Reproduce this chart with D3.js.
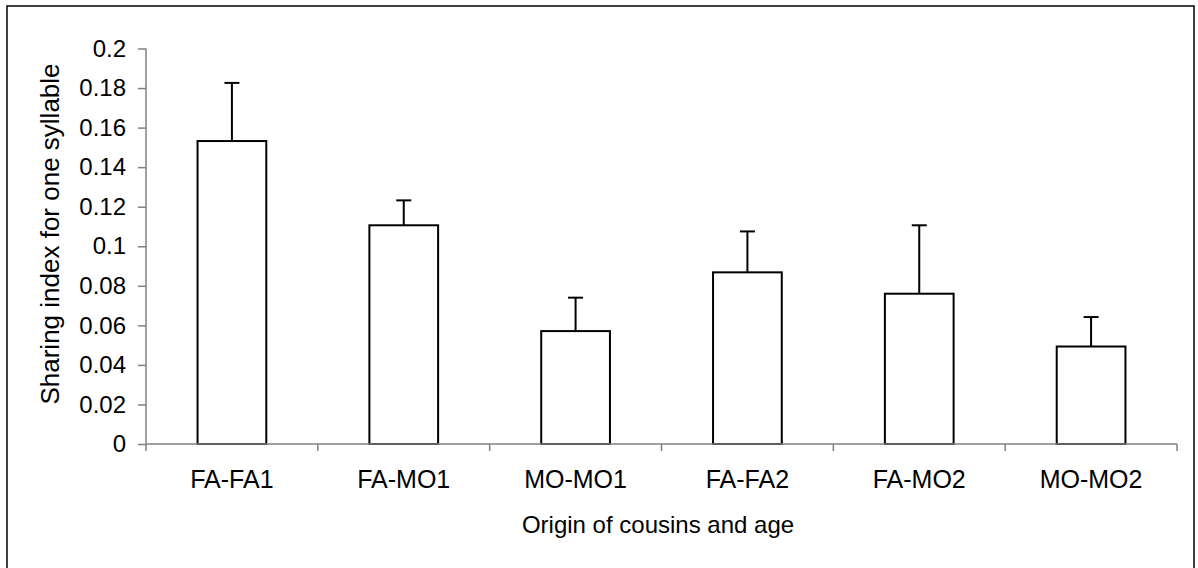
<!DOCTYPE html>
<html>
<head>
<meta charset="utf-8">
<script src="https://cdn.jsdelivr.net/npm/d3@7"></script>
<style>
  html, body { margin: 0; padding: 0; background: #fff; }
  svg { display: block; font-family: "Liberation Sans", Arial, sans-serif; }
</style>
</head>
<body>
<svg id="chart" width="1198" height="568"></svg>
<script>
const categories = ["FA-FA1", "FA-MO1", "MO-MO1", "FA-FA2", "FA-MO2", "MO-MO2"];
const means      = [0.1532, 0.1106, 0.0571, 0.0868, 0.0760, 0.0493];
const upperError = [0.1826, 0.1232, 0.0740, 0.1075, 0.1106, 0.0642];
const yTicks     = [0, 0.02, 0.04, 0.06, 0.08, 0.1, 0.12, 0.14, 0.16, 0.18, 0.2];
const xTitle = "Origin of cousins and age";
const yTitle = "Sharing index for one syllable";

const svg = d3.select("#chart");
const fontSize = 24;

// outer frame
svg.append("rect")
  .attr("x", 7).attr("y", 6).attr("width", 1187).attr("height", 580)
  .attr("fill", "none").attr("stroke", "#000").attr("stroke-width", 1.5);

const x = d3.scaleBand().domain(categories).range([146, 1177]).padding(0);
const y = d3.scaleLinear().domain([0, 0.2]).range([444, 48.5]);

const barW = x.bandwidth() * 0.4;
const capHalf = 7.5;

// bars
svg.append("g").selectAll("rect").data(categories).join("rect")
  .attr("x", (d) => x(d) + x.bandwidth() / 2 - barW / 2)
  .attr("y", (d, i) => y(means[i]))
  .attr("width", barW)
  .attr("height", (d, i) => y(0) - y(means[i]))
  .attr("fill", "#fff").attr("stroke", "#000").attr("stroke-width", 2);

// error bars
const eg = svg.append("g").attr("stroke", "#000").attr("stroke-width", 2);
categories.forEach((c, i) => {
  const cx = x(c) + x.bandwidth() / 2;
  eg.append("line").attr("x1", cx).attr("x2", cx)
    .attr("y1", y(means[i])).attr("y2", y(upperError[i]));
  eg.append("line").attr("x1", cx - capHalf).attr("x2", cx + capHalf)
    .attr("y1", y(upperError[i])).attr("y2", y(upperError[i]));
});

// y axis
const yAxis = d3.axisLeft(y).tickValues(yTicks).tickSize(8).tickPadding(12)
  .tickFormat((d) => String(+d.toFixed(2)));
const gy = svg.append("g").attr("transform", "translate(146,0)").call(yAxis);
gy.select(".domain").attr("stroke", "#808080").attr("stroke-width", 1.5)
  .attr("d", `M0,${y(0.2)}V${y(0)}`);
gy.selectAll(".tick line").attr("stroke", "#808080").attr("stroke-width", 1.5);
gy.selectAll(".tick text").attr("fill", "#000").attr("font-size", fontSize)
  .attr("font-family", "Liberation Sans, Arial, sans-serif");

// x axis: ticks at band boundaries
const gx = svg.append("g").attr("transform", "translate(0,444)");
gx.append("line").attr("x1", 146).attr("x2", 1177).attr("y1", 0).attr("y2", 0)
  .attr("stroke", "#808080").attr("stroke-width", 1.5);
const bounds = categories.map((c) => x(c)).concat([x(categories[categories.length - 1]) + x.bandwidth()]);
gx.selectAll("line.tk").data(bounds).join("line").attr("class", "tk")
  .attr("x1", (d) => d).attr("x2", (d) => d).attr("y1", 0).attr("y2", 7)
  .attr("stroke", "#808080").attr("stroke-width", 1.5);
gx.selectAll("text").data(categories).join("text")
  .attr("x", (d) => x(d) + x.bandwidth() / 2)
  .attr("y", 44)
  .attr("text-anchor", "middle")
  .attr("font-size", 25).attr("fill", "#000")
  .text((d) => d);

// axis titles
svg.append("text")
  .attr("x", 658).attr("y", 533)
  .attr("text-anchor", "middle").attr("font-size", fontSize).attr("fill", "#000")
  .text(xTitle);

svg.append("text")
  .attr("transform", "translate(59,234) rotate(-90)")
  .attr("text-anchor", "middle").attr("font-size", 26).attr("fill", "#000")
  .text(yTitle);
</script>
</body>
</html>
